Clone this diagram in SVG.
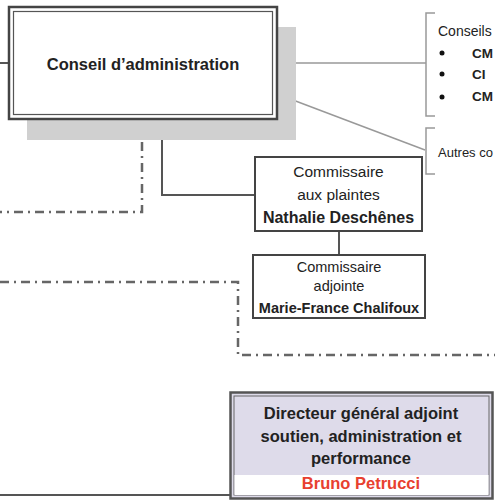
<svg xmlns="http://www.w3.org/2000/svg" width="495" height="501" viewBox="0 0 495 501">
<style>
text{font-family:"Liberation Sans",Arial,sans-serif;fill:#222}
.b{font-weight:bold}
.ln{stroke:#555;stroke-width:2;fill:none}
.thin{stroke:#999;stroke-width:1.5;fill:none}
.dd{stroke:#666;stroke-width:2.5;fill:none;stroke-dasharray:9 5 2 5}
.box{fill:#fff;stroke:#444;stroke-width:2}
.li{font-weight:bold;font-size:13.5px}
</style>
<rect width="495" height="501" fill="#fff"/>
<g id="connectors">
<line class="ln" x1="0" y1="63" x2="9" y2="63"/>
<line class="thin" x1="285" y1="63" x2="426" y2="63"/>
<line class="thin" x1="285" y1="97" x2="425" y2="150"/>
<polyline class="ln" points="162,120 162,195 255,195"/>
<polyline class="dd" points="142,121 142,212 0,212"/>
<line class="ln" x1="339" y1="231" x2="339" y2="255"/>
<polyline class="dd" points="0,282 238,282 238,355 495,355"/>
<line class="ln" x1="0" y1="495" x2="230" y2="495"/>
</g>
<g id="conseil">
<rect x="27" y="27" width="269" height="113" fill="#d0d0d0"/>
<rect x="9" y="7" width="268" height="112" fill="#fff" stroke="#444" stroke-width="2.5"/>
<rect x="13.5" y="11.5" width="259" height="103" fill="none" stroke="#555" stroke-width="1.2"/>
<text class="b" x="143" y="70" font-size="16.5" text-anchor="middle">Conseil d’administration</text>
</g>
<g id="conseils">
<polyline class="thin" points="435,13 426,13 426,116 435,116"/>
<text x="438" y="36" font-size="14">Conseils</text>
<circle cx="442" cy="53" r="2.5" fill="#111"/>
<circle cx="442" cy="74" r="2.5" fill="#111"/>
<circle cx="442" cy="97" r="2.5" fill="#111"/>
<text class="li" x="472" y="58">CM</text>
<text class="li" x="472" y="79">CI</text>
<text class="li" x="472" y="101">CM</text>
</g>
<g id="autres">
<polyline class="thin" points="435,128 426,128 426,174 435,174"/>
<text x="438" y="157" font-size="13" textLength="55" lengthAdjust="spacingAndGlyphs">Autres co</text>
</g>
<g id="commissaire">
<rect class="box" x="255" y="157" width="167" height="74"/>
<text x="338.5" y="177" font-size="15.5" text-anchor="middle">Commissaire</text>
<text x="338.5" y="200" font-size="15.5" text-anchor="middle">aux plaintes</text>
<text class="b" x="338.5" y="223" font-size="16" text-anchor="middle">Nathalie Deschênes</text>
</g>
<g id="adjointe">
<rect class="box" x="253" y="255" width="172" height="63"/>
<text x="339" y="272" font-size="14.5" text-anchor="middle">Commissaire</text>
<text x="339" y="291" font-size="14.5" text-anchor="middle">adjointe</text>
<text class="b" x="339" y="313" font-size="14.5" text-anchor="middle">Marie-France Chalifoux</text>
</g>
<g id="dga">
<rect x="230.5" y="392.5" width="262" height="106" fill="#dedbea" stroke="#555" stroke-width="2.5"/>
<rect x="234" y="396" width="255" height="99" fill="none" stroke="#666" stroke-width="1"/>
<rect x="234.5" y="475" width="254" height="20" fill="#fff"/>
<text class="b" x="361" y="419" font-size="16.5" text-anchor="middle">Directeur général adjoint</text>
<text class="b" x="361" y="442" font-size="16.5" text-anchor="middle">soutien, administration et</text>
<text class="b" x="361" y="464" font-size="16.5" text-anchor="middle">performance</text>
<text class="b" x="361" y="489" font-size="16.5" text-anchor="middle" style="fill:#e8402f">Bruno Petrucci</text>
</g>
</svg>
